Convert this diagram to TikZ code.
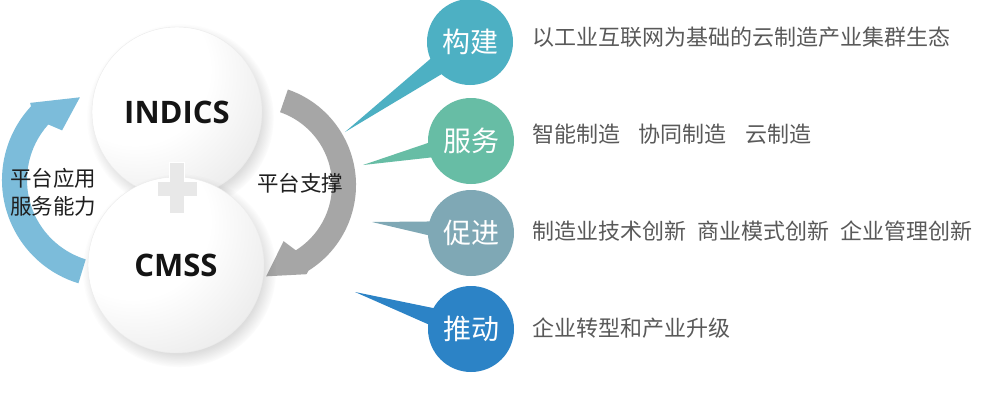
\documentclass[tikz,border=0pt]{standalone}
\usepackage{fontspec}
\setmainfont{Open Sans}
\newfontfamily\cjk{Noto Sans CJK SC}
\usetikzlibrary{shadows,calc}
\definecolor{arrowblue}{HTML}{7CBCDA}
\definecolor{arrowgray}{HTML}{A6A6A6}
\definecolor{bubA}{HTML}{4DB0C3}
\definecolor{bubB}{HTML}{67BDA5}
\definecolor{bubC}{HTML}{7FA8B5}
\definecolor{bubD}{HTML}{2C83C6}
\definecolor{txtgray}{HTML}{595959}
\pgfdeclareradialshading{discshade}{\pgfpoint{-18bp}{18bp}}{color(0bp)=(white); color(22bp)=(white); color(50bp)=(black!13); color(72bp)=(black!26)}
\tikzset{
  disc/.style={circle, minimum size=#1, inner sep=0pt, shading=discshade, draw=black!8,
    circular drop shadow={shadow xshift=3pt, shadow yshift=-5pt, opacity=0.22, fill=black!60},
    font=\fontsize{31}{31}\selectfont\bfseries, text=black!92},
  bubble/.style={circle, minimum size=86pt, inner sep=0pt, fill=#1, text=white,
    font=\cjk\fontsize{28}{28}\selectfont},
  desc/.style={anchor=west, inner sep=0pt, text=txtgray, font=\cjk\fontsize{22}{22}\selectfont},
  sidelabel/.style={inner sep=0pt, text=black!88, align=center,
    font=\cjk\fontsize{21.5}{28}\selectfont},
  plussign/.style={fill=black!9, draw=white, line width=1pt}
}
\begin{document}
\begin{tikzpicture}[x=1pt, y=-1pt]
\useasboundingbox[fill=white] (0,0) rectangle (986,400);

% blue circular arrow (platform application service capability)
\begin{scope}[shift={(110,180)}, y=1pt]
  \fill[arrowblue] (253:108) arc[start angle=253, end angle=137, radius=108]
    -- (136:111) -- (110:88) -- (134:69) -- (138:83)
    arc[start angle=138, end angle=253, radius=83] -- cycle;
\end{scope}

% gray circular arrow (platform support)
\begin{scope}[shift={(255,185)}, y=1pt]
  \fill[arrowgray] (71:101) arc[start angle=71, end angle=-58, radius=101]
    -- (-60:103) -- (-83:92) -- (-63:63) -- (-58:77)
    arc[start angle=-58, end angle=71, radius=77] -- cycle;
\end{scope}

% central discs
\node[disc=170pt] (indics) at (177,112) {INDICS};
\node[disc=176pt] (cmss) at (176,265) {CMSS};
\fill[plussign] (169.5,162) -- (184.5,162) -- (184.5,181) -- (197,181) -- (197,196)
  -- (184.5,196) -- (184.5,213) -- (169.5,213) -- (169.5,196) -- (157,196)
  -- (157,181) -- (169.5,181) -- cycle;

\node[sidelabel] (app) at (53,192) {平台应用\\服务能力};
\node[sidelabel] (support) at (300,183) {平台支撑};

% bubble tail tips
\coordinate (t1) at (345,132);
\coordinate (t2) at (363,165);
\coordinate (t3) at (372,222);
\coordinate (t4) at (355,292);
\coordinate (c1) at (470,42);
\coordinate (c2) at (471,141);
\coordinate (c3) at (471,233);
\coordinate (c4) at (471,329);

\fill[bubA] (t1) -- ($(c1)!13pt!90:(t1)$) -- ($(c1)!13pt!-90:(t1)$) -- cycle;
\fill[bubB] (t2) -- ($(c2)!12pt!90:(t2)$) -- ($(c2)!12pt!-90:(t2)$) -- cycle;
\fill[bubC] (t3) -- ($(c3)!12pt!90:(t3)$) -- ($(c3)!12pt!-90:(t3)$) -- cycle;
\fill[bubD] (t4) -- ($(c4)!13pt!90:(t4)$) -- ($(c4)!13pt!-90:(t4)$) -- cycle;

\node[bubble=bubA] (b1) at (c1) {构建};
\node[bubble=bubB] (b2) at (c2) {服务};
\node[bubble=bubC] (b3) at (c3) {促进};
\node[bubble=bubD] (b4) at (c4) {推动};

\node[desc] (d1) at (532,37) {以工业互联网为基础的云制造产业集群生态};
\node[desc] (d2) at (532,134) {智能制造\hspace{0.85em}协同制造\hspace{0.85em}云制造};
\node[desc] (d3) at (532,231) {制造业技术创新\hspace{0.5em}商业模式创新\hspace{0.5em}企业管理创新};
\node[desc] (d4) at (532,328) {企业转型和产业升级};
\end{tikzpicture}
\end{document}
